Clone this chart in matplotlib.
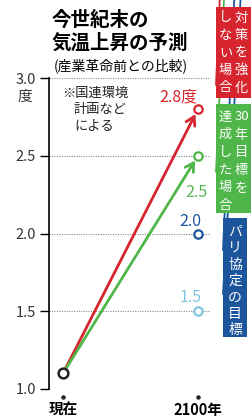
import matplotlib
matplotlib.use("Agg")
import matplotlib.pyplot as plt
from matplotlib.patches import Rectangle

plt.rcParams['font.family'] = ['Noto Sans CJK JP', 'DejaVu Sans']

# data
x_labels = ['現在', '2100年']
start_value = 1.1
end_values = [2.8, 2.5, 2.0, 1.5]
end_labels = ['2.8度', '2.5', '2.0', '1.5']
arrow_series = [True, True, False, False]
colors = ['#d6252e', '#4fb64a', '#1c559c', '#7ec5df']
label_colors = ['#d6252e', '#5bb657', '#1c559c', '#7ec5df']
y_ticks = [1.0, 1.5, 2.0, 2.5, 3.0]
y_tick_labels = ['1.0', '1.5', '2.0', '2.5', '3.0']

W, H = 253, 420
fig = plt.figure(figsize=(W / 100, H / 100), dpi=100)


def px(x, y):
    return x / W, 1 - y / H


ax = fig.add_axes([49 / W, (H - 389) / H, (210 - 49) / W, (389 - 78) / H])
ax.set_xlim(-14 / 135, 1 + 12 / 135)
ax.set_ylim(1.0, 3.0)
for s in ['top', 'right', 'bottom']:
    ax.spines[s].set_visible(False)
ax.spines['left'].set_linewidth(1.2)
ax.set_yticks(y_ticks)
ax.set_yticklabels(y_tick_labels, fontsize=10.5, color='#333333')
ax.tick_params(axis='y', length=6.5, width=1.0, pad=3)
ax.set_xticks([0, 1])
ax.set_xticklabels(x_labels, fontsize=10.5, fontweight='bold')
ax.tick_params(axis='x', length=0, pad=9)
for v in y_ticks:
    ax.axhline(v, color='#888888', lw=0.8, ls=(0, (1, 1.2)), zorder=1)

# dots above the x labels
ax.plot([0, 1], [0.95, 0.95], 'o', color='#222222', ms=2.2, clip_on=False)

# arrows / lines
for v, c, arr in zip(end_values, colors, arrow_series):
    if arr:
        ax.annotate('', xy=(1, v), xytext=(0, start_value),
                    arrowprops=dict(arrowstyle='->,head_length=0.6,head_width=0.35',
                                    color=c, lw=2.0, shrinkA=0, shrinkB=4),
                    zorder=3)
    ax.plot([1], [v], 'o', ms=6, mfc='white', mec=c, mew=1.6, zorder=5, clip_on=False)
ax.plot([0], [start_value], 'o', ms=7, mfc='white', mec='#222222', mew=1.8, zorder=5)

# value labels
label_pos = [(178, 97), (196, 193), (190, 221), (191, 298)]
for (lx, ly), t, c in zip(label_pos, end_labels, label_colors):
    fig.text(*px(lx, ly), t, color=c, fontsize=11.5, ha='center', va='center')

# connectors to boxes
conn_to = [(216, 85), (216, 172), (223, 250), (223, 294)]
conn_colors = [colors[0], colors[1], colors[2], colors[2]]
for v, (cx, cy), c in zip(end_values, conn_to, conn_colors):
    ax.annotate('', xy=px(cx, cy), xycoords='figure fraction', xytext=(1, v),
                arrowprops=dict(arrowstyle='-', color=c, lw=1.3, shrinkA=3, shrinkB=0),
                annotation_clip=False, zorder=4)


# boxes
def box(x0, y0, x1, y1, color):
    fx0, fy1 = px(x0, y0)
    fx1, fy0 = px(x1, y1)
    ax.add_patch(Rectangle((fx0, fy0), fx1 - fx0, fy1 - fy0,
                           transform=fig.transFigure, facecolor=color,
                           edgecolor='none', zorder=6, clip_on=False))


def column(chars, x, y0, step, size=9.5):
    for i, ch in enumerate(chars):
        ax.text(*px(x, y0 + i * step), ch, color='white', fontsize=size,
                transform=fig.transFigure, ha='center', va='center', zorder=7)


box(216, 7, 251, 98, colors[0])
column(['対', '策', 'を', '強', '化'], 241.5, 18, 17.5)
column(['し', 'な', 'い', '場', '合'], 225.5, 18, 17.5)

box(216, 104, 251, 213, colors[1])
column(['30'], 241.5, 117, 17.8, size=9.5)
column(['年', '目', '標', 'を'], 241.5, 135, 17.8)
column(['達', '成', 'し', 'た', '場', '合'], 225.5, 117, 17.6)

box(223, 218, 247, 337, colors[2])
column(['パ', 'リ', '協', '定', 'の', '目', '標'], 235, 232, 16.4, size=10)

# titles and notes
fig.text(*px(52, 20), '今世紀末の', fontsize=14, fontweight='bold', va='center', ha='left')
fig.text(*px(52, 43), '気温上昇の予測', fontsize=14, fontweight='bold', va='center', ha='left')
fig.text(*px(54, 66), '(産業革命前との比較)', fontsize=10, va='center', ha='left')
fig.text(*px(25, 97), '度', fontsize=10.5, va='center', ha='center', color='#333333')
fig.text(*px(62, 93), '※国連環境', fontsize=9.5, va='center', ha='left', color='#222222')
fig.text(*px(74, 110), '計画など', fontsize=9.5, va='center', ha='left', color='#222222')
fig.text(*px(74, 126), 'による', fontsize=9.5, va='center', ha='left', color='#222222')

fig.savefig('out.png', dpi=100, facecolor='white')
